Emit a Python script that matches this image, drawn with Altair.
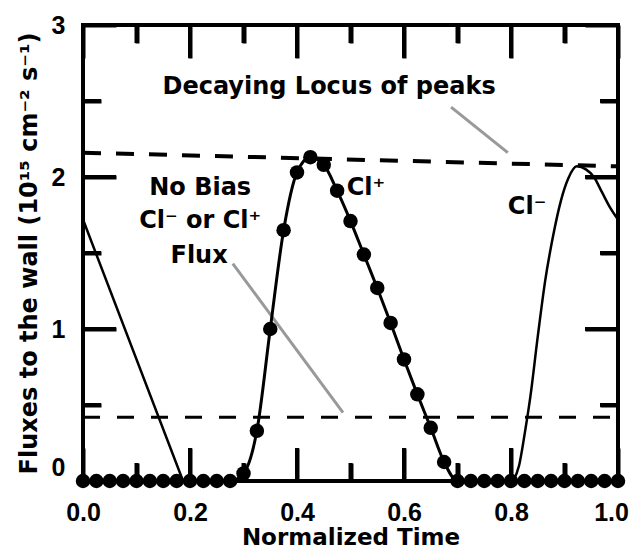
import altair as alt
import pandas as pd

# ---------------- data ----------------
# Cl+ flux (dots + thick line)
t_dots = [0.0, 0.025, 0.05, 0.075, 0.1, 0.125, 0.15, 0.175, 0.2, 0.225, 0.25, 0.275,
          0.3, 0.325, 0.35, 0.375, 0.4, 0.425, 0.45, 0.475, 0.5, 0.525, 0.55, 0.575,
          0.6, 0.625, 0.65, 0.675, 0.7, 0.725, 0.75, 0.775, 0.8, 0.825, 0.85, 0.875,
          0.9, 0.925, 0.95, 0.975, 1.0]
cl_plus = [0, 0, 0, 0, 0, 0, 0, 0, 0, 0, 0, 0,
           0.05, 0.33, 1.0, 1.65, 2.03, 2.13, 2.08, 1.91, 1.71, 1.49, 1.27, 1.04,
           0.80, 0.57, 0.35, 0.125, 0, 0, 0, 0, 0, 0, 0, 0,
           0, 0, 0, 0, 0]

# Cl- flux (thin line): straight falling part, then smooth rise and peak
t_minus_fall = [0.0, 0.187, 0.804]
cl_minus_fall = [1.72, 0.0, 0.0]
t_minus_rise = [0.804, 0.815, 0.826, 0.836, 0.85, 0.864, 0.878, 0.893,
                0.907, 0.923, 0.94, 0.955, 0.97, 0.985, 1.0]
cl_minus_rise = [0.0, 0.1, 0.32, 0.55, 0.95, 1.32, 1.6, 1.84,
                 1.99, 2.07, 2.05, 2.0, 1.9, 1.8, 1.72]

# dashed reference lines
locus_t = [0.0, 1.0]
locus_f = [2.16, 2.07]
nobias_t = [0.0, 1.0]
nobias_f = [0.42, 0.42]

# annotation pointers (gray)
ptr_t = [0.688, 0.28]
ptr_f = [2.46, 1.43]
ptr_t2 = [0.794, 0.486]
ptr_f2 = [2.16, 0.45]

# text labels
lab_center_text = ["Decaying Locus of peaks", "No Bias", "Cl\u207b or Cl\u207a", "Flux"]
lab_center_t = [0.46, 0.219, 0.219, 0.217]
lab_center_f = [2.59, 1.93, 1.71, 1.48]
lab_left_text = ["Cl\u207a", "Cl\u207b"]
lab_left_t = [0.493, 0.794]
lab_left_f = [1.93, 1.80]

# tick positions (ticks point inwards on all four sides)
x_ticks = [0.0, 0.1, 0.2, 0.3, 0.4, 0.5, 0.6, 0.7, 0.8, 0.9, 1.0]
x_major = [0.2, 0.4, 0.6, 0.8]
x_minor = [0.1, 0.3, 0.5, 0.7, 0.9]
y_ticks = [0.0, 0.5, 1.0, 1.5, 2.0, 2.5, 3.0]
y_major = [1.0, 2.0]
y_minor = [0.5, 1.5, 2.5]

# ---------------- chart ----------------
W, H = 535, 456
X0, X1, Y0, Y1 = 0.0, 1.0, 0.0, 3.0
MAJOR_PX, MINOR_PX = 33, 18
FONT = "DejaVu Sans"
TICKFONT = "Liberation Sans"

xs = alt.Scale(domain=[X0, X1], nice=False, zero=False)
ys = alt.Scale(domain=[Y0, Y1], nice=False, zero=False)

x_minor_js = "[" + ",".join(str(v) for v in x_minor) + "]"
y_minor_js = "[" + ",".join(str(v) for v in y_minor) + "]"

x_axis = alt.Axis(values=x_ticks, title="Normalized Time",
                  labelExpr="indexof(%s, datum.value) >= 0 ? '' : format(datum.value, '.1f')" % x_minor_js,
                  grid=True, gridColor="black", gridOpacity=1, gridWidth=4,
                  gridDash={"condition": {"test": "indexof(%s, datum.value) >= 0" % x_minor_js,
                                          "value": [MINOR_PX, H - 2 * MINOR_PX, MINOR_PX, 2000]},
                            "value": [MAJOR_PX, H - 2 * MAJOR_PX, MAJOR_PX, 2000]},
                  domain=False, ticks=False, tickSize=0, labelFlush=False, labelOverlap=False,
                  labelFont=TICKFONT, labelFontWeight="bold", labelFontSize=25,
                  labelColor="black", labelPadding=39, labelBaseline="alphabetic",
                  labelOffset={"condition": {"test": "datum.value === 1", "value": -7}, "value": 0},
                  titleFont=FONT, titleFontWeight="bold", titleFontSize=23,
                  titleColor="black", titleBaseline="alphabetic", titleY=63)
y_axis = alt.Axis(values=y_ticks,
                  title="Fluxes to the wall (10\u00b9\u2075 cm\u207b\u00b2 s\u207b\u00b9)",
                  labelExpr="indexof(%s, datum.value) >= 0 ? '' : format(datum.value, 'd')" % y_minor_js,
                  grid=True, gridColor="black", gridOpacity=1, gridWidth=4,
                  gridDash={"condition": {"test": "indexof(%s, datum.value) >= 0" % y_minor_js,
                                          "value": [MINOR_PX, W - 2 * MINOR_PX, MINOR_PX, 2000]},
                            "value": [MAJOR_PX, W - 2 * MAJOR_PX, MAJOR_PX, 2000]},
                  domain=False, ticks=False, tickSize=0, labelFlush=False, labelOverlap=False,
                  labelFont=TICKFONT, labelFontWeight="bold", labelFontSize=25,
                  labelColor="black", labelPadding=18,
                  labelOffset={"condition": {"test": "datum.value === 0", "value": -14}, "value": 0},
                  titleFont=FONT, titleFontWeight="bold", titleFontSize=24,
                  titleColor="black", titleBaseline="alphabetic", titleX=-47)

X = alt.X("t:Q", scale=xs, axis=x_axis)
Y = alt.Y("f:Q", scale=ys, axis=y_axis)

df_nb = pd.DataFrame({"t": nobias_t, "f": nobias_f})
df_locus = pd.DataFrame({"t": locus_t, "f": locus_f})
df_ptr = pd.DataFrame({"t": ptr_t, "f": ptr_f, "t2": ptr_t2, "f2": ptr_f2})
df_mfall = pd.DataFrame({"t": t_minus_fall, "f": cl_minus_fall})
df_mrise = pd.DataFrame({"t": t_minus_rise, "f": cl_minus_rise})
df_plus = pd.DataFrame({"t": t_dots, "f": cl_plus})
df_lc = pd.DataFrame({"t": lab_center_t, "f": lab_center_f, "label": lab_center_text})
df_ll = pd.DataFrame({"t": lab_left_t, "f": lab_left_f, "label": lab_left_text})


def tick_rows():
    rows = []
    for vals, L in [(x_major, MAJOR_PX), (x_minor, MINOR_PX)]:
        dy = L * (Y1 - Y0) / H
        for v in vals:
            rows.append({"t": v, "f": Y0, "t2": v, "f2": Y0 + dy})
            rows.append({"t": v, "f": Y1, "t2": v, "f2": Y1 - dy})
    for vals, L in [(y_major, MAJOR_PX), (y_minor, MINOR_PX)]:
        dx = L * (X1 - X0) / W
        for v in vals:
            rows.append({"t": X0, "f": v, "t2": X0 + dx, "f2": v})
            rows.append({"t": X1, "f": v, "t2": X1 - dx, "f2": v})
    return pd.DataFrame(rows)


df_ticks = tick_rows()
ticks = alt.Chart(df_ticks).mark_rule(color="black", strokeWidth=4).encode(
    x=X, y=Y, x2="t2:Q", y2="f2:Q")

nobias = alt.Chart(df_nb).mark_line(color="black", strokeWidth=3, strokeDash=[17, 17]).encode(x=X, y=Y)
locus = alt.Chart(df_locus).mark_line(color="black", strokeWidth=4, strokeDash=[18, 15]).encode(x=X, y=Y)
ptr = alt.Chart(df_ptr).mark_rule(color="#999999", strokeWidth=3).encode(
    x=X, y=Y, x2="t2:Q", y2="f2:Q")
mfall = alt.Chart(df_mfall).mark_line(color="black", strokeWidth=2.5).encode(
    x=X, y=Y, order="t:Q")
mrise = alt.Chart(df_mrise).mark_line(color="black", strokeWidth=2.5, interpolate="monotone").encode(
    x=X, y=Y, order="t:Q")
plus_line = alt.Chart(df_plus).mark_line(color="black", strokeWidth=3, interpolate="monotone").encode(
    x=X, y=Y, order="t:Q")
plus_pts = alt.Chart(df_plus).mark_circle(color="black", opacity=1, size=210).encode(x=X, y=Y)

txt_c = alt.Chart(df_lc).mark_text(font=FONT, fontWeight="bold", fontSize=24, color="black",
                                   align="center", baseline="middle").encode(x=X, y=Y, text="label:N")
txt_l = alt.Chart(df_ll).mark_text(font=FONT, fontWeight="bold", fontSize=24, color="black",
                                   align="left", baseline="middle").encode(x=X, y=Y, text="label:N")

chart = alt.layer(
    ticks, nobias, locus, ptr, mfall, mrise, plus_line, plus_pts, txt_c, txt_l
).properties(
    width=W, height=H,
    autosize=alt.AutoSizeParams(type="none"),
    padding={"left": 75, "top": 17, "right": 11, "bottom": 67},
    background="white",
).configure_view(stroke="black", strokeWidth=4)

chart.save("out.html", embed_options={"renderer": "svg", "actions": False})
